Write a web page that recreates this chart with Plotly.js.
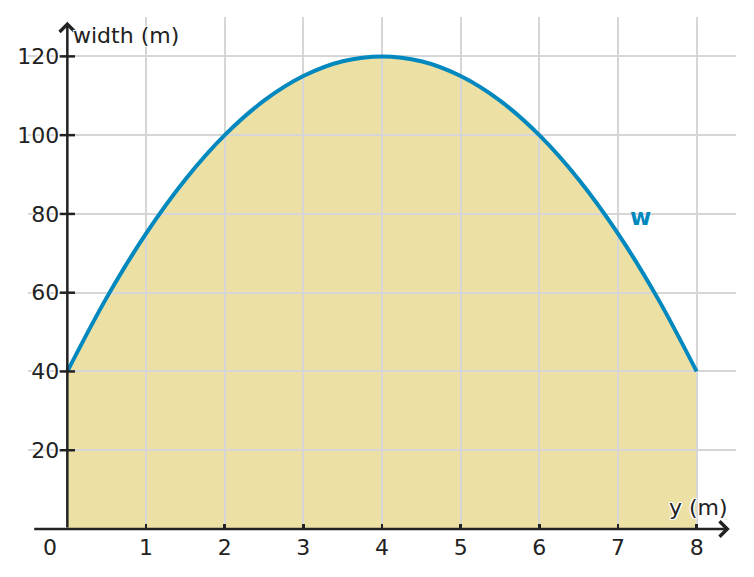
<!DOCTYPE html>
<html>
<head>
<meta charset="utf-8">
<script src="https://cdn.plot.ly/plotly-3.0.1.min.js"></script>
<style>
  html, body { margin: 0; padding: 0; background: #fff; }
  #chart { width: 754px; height: 577px; }
</style>
</head>
<body>
<div id="chart"></div>
<script>
// values
const yPos = [0, 0.5, 1, 1.5, 2, 2.5, 3, 3.5, 4, 4.5, 5, 5.5, 6, 6.5, 7, 7.5, 8];
const widths = [40, 58.75, 75, 88.75, 100, 108.75, 115, 118.75, 120, 118.75, 115, 108.75, 100, 88.75, 75, 58.75, 40];
const xTicks = [1, 2, 3, 4, 5, 6, 7, 8];
const yTicks = [20, 40, 60, 80, 100, 120];

const ink = '#222222';
const blue = '#0088bf';
const font = 'DejaVu Sans, sans-serif';
const fs = 22;
const halo = '-1px -1px 0 #fff, 1px -1px 0 #fff, -1px 1px 0 #fff, 1px 1px 0 #fff, 0 0 3px #fff';

// yellow area under the curve, kept below the gridlines
let areaPath = 'M' + yPos[0] + ',0';
yPos.forEach((y, i) => { areaPath += ' L' + y + ',' + widths[i]; });
areaPath += ' L' + yPos[yPos.length - 1] + ',0 Z';

const curve = {
  x: yPos,
  y: widths,
  mode: 'lines',
  type: 'scatter',
  line: { color: blue, width: 4, shape: 'spline' },
  hoverinfo: 'skip'
};

const yTickMarks = {
  x: yTicks.map(() => 0),
  y: yTicks,
  mode: 'markers',
  type: 'scatter',
  marker: { symbol: 'line-ew', size: 11, line: { color: ink, width: 2.5 } },
  hoverinfo: 'skip',
  cliponaxis: false
};

const layout = {
  width: 754,
  height: 577,
  margin: { l: 28, r: 18, t: 17, b: 48 },
  paper_bgcolor: '#ffffff',
  plot_bgcolor: 'rgba(0,0,0,0)',
  showlegend: false,
  font: { family: font, size: fs, color: ink },
  xaxis: {
    range: [-0.5, 8.5],
    tickvals: xTicks,
    ticks: 'inside',
    ticklen: 5,
    tickwidth: 2.5,
    tickcolor: ink,
    ticklabelstandoff: 3,
    showgrid: true,
    gridcolor: '#d6d6d6',
    gridwidth: 2,
    zeroline: false,
    showline: false,
    tickfont: { family: font, size: fs, color: ink }
  },
  yaxis: {
    range: [0, 130],
    anchor: 'free',
    position: 0.5 / 9,
    tickvals: yTicks,
    ticks: '',
    ticklabelstandoff: 8,
    showgrid: true,
    gridcolor: '#d6d6d6',
    gridwidth: 2,
    zeroline: false,
    showline: false,
    tickfont: { family: font, size: fs, color: ink, shadow: halo }
  },
  shapes: [
    {
      type: 'path',
      xref: 'x',
      yref: 'y',
      path: areaPath,
      fillcolor: '#ece0a4',
      line: { width: 0 },
      layer: 'below'
    }
  ],
  annotations: [
    // x axis with arrow
    {
      xref: 'x', yref: 'y', axref: 'x', ayref: 'y',
      x: 8.42, y: 0, ax: -0.44, ay: 0,
      text: '', showarrow: true, arrowhead: 4, arrowsize: 1.2,
      arrowwidth: 2.5, arrowcolor: ink
    },
    // y axis with arrow
    {
      xref: 'x', yref: 'y', axref: 'x', ayref: 'y',
      x: 0, y: 128.8, ax: 0, ay: 0,
      text: '', showarrow: true, arrowhead: 4, arrowsize: 1.2,
      arrowwidth: 2.5, arrowcolor: ink
    },
    {
      xref: 'x', yref: 'y', x: 0, y: 125.4, xanchor: 'left', yanchor: 'middle',
      xshift: 4, text: 'width (m)', showarrow: false,
      font: { family: font, size: fs, color: ink, shadow: halo }
    },
    {
      xref: 'x', yref: 'y', x: 8.42, y: 5.4, xanchor: 'right', yanchor: 'middle',
      text: 'y (m)', showarrow: false,
      font: { family: font, size: fs, color: ink, shadow: halo }
    },
    {
      xref: 'x', yref: 'y', x: -0.22, y: 0, xanchor: 'center', yanchor: 'top',
      yshift: -4, text: '0', showarrow: false,
      font: { family: font, size: fs, color: ink }
    },
    {
      xref: 'x', yref: 'y', x: 7.29, y: 79.2, xanchor: 'center', yanchor: 'middle',
      text: '<b>w</b>', showarrow: false,
      font: { family: font, size: 23, color: blue }
    }
  ]
};

Plotly.newPlot('chart', [curve, yTickMarks], layout, { staticPlot: true, displayModeBar: false });
</script>
</body>
</html>
